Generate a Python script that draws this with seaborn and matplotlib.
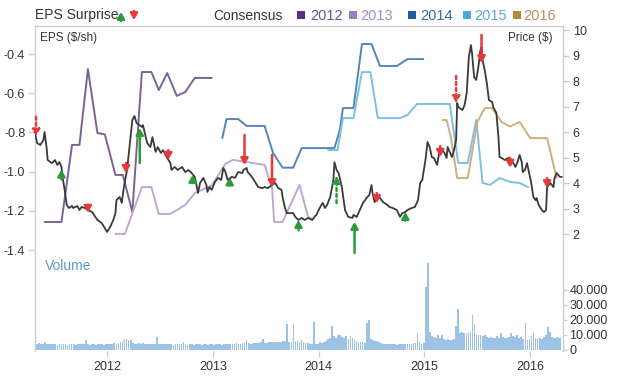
import numpy as np
import pandas as pd
import matplotlib
matplotlib.use("Agg")
import matplotlib.pyplot as plt
from matplotlib.patches import Rectangle, FancyArrowPatch
import seaborn as sns

sns.set_theme(style="white")
plt.rcParams["font.family"] = ["Liberation Sans", "DejaVu Sans"]
plt.rcParams["axes.unicode_minus"] = False

# share price ($), time as decimal year
price_t = [2011.32, 2011.34, 2011.37, 2011.40, 2011.41, 2011.43, 2011.44, 2011.48, 2011.51, 2011.53,
           2011.55, 2011.57, 2011.58, 2011.60, 2011.62, 2011.64, 2011.67, 2011.68, 2011.72, 2011.74,
           2011.76, 2011.79, 2011.82, 2011.86, 2011.89, 2011.91, 2011.95, 2011.98, 2012.00, 2012.03,
           2012.06, 2012.08, 2012.09, 2012.12, 2012.14, 2012.16, 2012.19, 2012.21, 2012.24, 2012.26,
           2012.28, 2012.33, 2012.34, 2012.38, 2012.41, 2012.43, 2012.46, 2012.48, 2012.51, 2012.53,
           2012.57, 2012.60, 2012.61, 2012.64, 2012.67, 2012.71, 2012.74, 2012.77, 2012.80, 2012.83,
           2012.85, 2012.86, 2012.88, 2012.91, 2012.94, 2012.95, 2012.97, 2012.99, 2013.02, 2013.05,
           2013.08, 2013.10, 2013.12, 2013.14, 2013.18, 2013.21, 2013.24, 2013.28, 2013.29, 2013.32,
           2013.33, 2013.37, 2013.40, 2013.43, 2013.47, 2013.49, 2013.52, 2013.56, 2013.59, 2013.62,
           2013.65, 2013.66, 2013.68, 2013.70, 2013.76, 2013.78, 2013.81, 2013.84, 2013.87, 2013.90,
           2013.94, 2013.96, 2013.98, 2014.01, 2014.04, 2014.06, 2014.08, 2014.11, 2014.14, 2014.15,
           2014.17, 2014.19, 2014.22, 2014.25, 2014.28, 2014.32, 2014.33, 2014.36, 2014.39, 2014.42,
           2014.46, 2014.48, 2014.50, 2014.51, 2014.53, 2014.55, 2014.58, 2014.61, 2014.65, 2014.67,
           2014.70, 2014.74, 2014.77, 2014.79, 2014.82, 2014.84, 2014.88, 2014.91, 2014.94, 2014.96,
           2014.98, 2015.01, 2015.03, 2015.05, 2015.07, 2015.09, 2015.12, 2015.14, 2015.17, 2015.19,
           2015.21, 2015.22, 2015.26, 2015.28, 2015.30, 2015.31, 2015.32, 2015.36, 2015.38, 2015.40,
           2015.42, 2015.44, 2015.45, 2015.47, 2015.49, 2015.51, 2015.53, 2015.54, 2015.55, 2015.57,
           2015.59, 2015.61, 2015.64, 2015.65, 2015.68, 2015.70, 2015.71, 2015.73, 2015.76, 2015.79,
           2015.82, 2015.84, 2015.86, 2015.88, 2015.90, 2015.92, 2015.93, 2015.95, 2015.97, 2015.99,
           2016.01, 2016.03, 2016.05, 2016.06, 2016.08, 2016.11, 2016.13, 2016.15, 2016.16, 2016.19,
           2016.22, 2016.23, 2016.25, 2016.28, 2016.30]
price_v = [5.96, 5.57, 5.49, 5.69, 6.00, 5.37, 4.90, 4.78, 4.90, 4.71,
           4.82, 4.63, 4.24, 3.73, 3.14, 3.02, 3.10, 3.02, 3.10, 2.94,
           3.06, 3.02, 2.94, 2.86, 2.67, 2.55, 2.43, 2.23, 2.08, 2.27,
           2.55, 2.82, 3.33, 3.45, 3.22, 3.84, 4.51, 5.29, 6.47, 6.63,
           6.35, 6.20, 6.27, 5.57, 5.41, 5.80, 5.22, 5.41, 5.18, 5.29,
           4.98, 4.78, 4.51, 4.63, 4.51, 4.63, 4.43, 4.51, 4.39, 4.24,
           3.84, 3.61, 4.00, 4.20, 3.92, 3.65, 3.84, 3.73, 4.04, 4.20,
           4.12, 4.59, 4.43, 4.12, 4.24, 4.20, 4.43, 4.39, 4.51, 4.59,
           4.43, 4.24, 4.04, 3.84, 3.80, 3.84, 3.80, 3.92, 4.00, 3.80,
           3.73, 3.45, 3.06, 2.82, 2.82, 2.67, 2.55, 2.63, 2.55, 2.63,
           2.55, 2.67, 2.75, 3.02, 3.22, 3.02, 3.14, 3.45, 4.12, 4.82,
           4.51, 4.39, 3.84, 2.94, 2.67, 2.63, 2.75, 2.67, 2.94, 3.22,
           3.45, 3.53, 3.92, 3.61, 3.25, 3.45, 3.41, 3.25, 3.14, 3.06,
           3.02, 2.94, 2.67, 2.82, 2.86, 2.94, 3.02, 3.06, 3.33, 4.00,
           4.12, 4.90, 5.61, 5.41, 5.02, 4.98, 4.71, 5.18, 5.29, 5.18,
           4.98, 5.41, 5.02, 5.29, 5.69, 7.14, 6.98, 6.86, 7.06, 7.53,
           8.94, 9.41, 9.10, 8.16, 8.04, 8.55, 9.22, 9.33, 8.82, 8.43,
           7.92, 7.25, 7.18, 6.98, 6.75, 5.80, 5.02, 4.98, 4.90, 4.98,
           4.90, 4.78, 4.63, 4.82, 5.10, 4.82, 4.43, 4.51, 4.78, 4.39,
           4.00, 3.45, 3.33, 3.41, 3.14, 2.94, 2.86, 2.94, 3.84, 4.00,
           3.84, 4.20, 4.39, 4.24, 4.24]

# consensus EPS ($/sh) per fiscal year
cons_2012_t = [2011.41, 2011.57, 2011.67, 2011.74, 2011.82, 2011.91, 2011.98, 2012.08, 2012.15,
               2012.24, 2012.33, 2012.42, 2012.49, 2012.57, 2012.66, 2012.74, 2012.83, 2012.99]
cons_2012_v = [-1.257, -1.257, -0.864, -0.864, -0.477, -0.803, -0.81, -1.017, -1.017,
               -1.206, -0.492, -0.492, -0.584, -0.497, -0.614, -0.594, -0.522, -0.522]
cons_2013_t = [2012.08, 2012.17, 2012.33, 2012.42, 2012.49, 2012.60, 2012.74, 2012.83, 2012.99,
               2013.12, 2013.19, 2013.49, 2013.56, 2013.58, 2013.66, 2013.82, 2013.90, 2013.93]
cons_2013_v = [-1.318, -1.318, -1.079, -1.079, -1.216, -1.216, -1.17, -1.11, -1.07,
               -0.96, -0.94, -0.966, -1.08, -1.257, -1.257, -1.068, -1.23, -1.24]
cons_2014_t = [2013.09, 2013.13, 2013.24, 2013.32, 2013.49, 2013.57, 2013.66, 2013.76, 2013.84,
               2014.15, 2014.20, 2014.23, 2014.33, 2014.41, 2014.50, 2014.58, 2014.74, 2014.84, 2014.99]
cons_2014_v = [-0.829, -0.732, -0.732, -0.767, -0.767, -0.905, -0.98, -0.98, -0.88,
               -0.88, -0.79, -0.676, -0.676, -0.349, -0.349, -0.461, -0.461, -0.426, -0.426]
cons_2015_t = [2014.09, 2014.18, 2014.23, 2014.33, 2014.41, 2014.49, 2014.56, 2014.77, 2014.84,
               2014.93, 2015.24, 2015.32, 2015.41, 2015.49, 2015.55, 2015.62, 2015.71, 2015.81,
               2015.90, 2015.98]
cons_2015_v = [-0.89, -0.89, -0.727, -0.727, -0.492, -0.492, -0.727, -0.727, -0.711,
               -0.655, -0.655, -0.956, -0.956, -0.737, -1.058, -1.068, -1.033, -1.053,
               -1.058, -1.079]
cons_2016_t = [2015.17, 2015.21, 2015.25, 2015.31, 2015.41, 2015.50, 2015.57, 2015.64, 2015.73,
               2015.81, 2015.90, 2016.00, 2016.16, 2016.25]
cons_2016_v = [-0.737, -0.737, -0.823, -1.033, -1.033, -0.747, -0.676, -0.676, -0.747,
               -0.77, -0.747, -0.829, -0.829, -1.033]

# EPS surprise arrows: consensus -> reported
surprise_t = [2011.33, 2011.57, 2011.82, 2012.18, 2012.31, 2012.58, 2012.81, 2013.16, 2013.30, 2013.56,
              2013.81, 2014.17, 2014.34, 2014.55, 2014.82, 2015.15, 2015.30, 2015.54, 2015.81, 2016.16]
surprise_from = [-0.72, -1.04, -1.17, -0.956, -0.956, -0.89, -1.058, -1.07, -0.813, -0.915,
                 -1.30, -1.16, -1.415, -1.11, -1.25, -0.87, -0.512, -0.303, -0.93, -1.033]
surprise_to = [-0.82, -0.99, -1.21, -1.007, -0.778, -0.94, -1.017, -1.03, -0.966, -1.079,
               -1.247, -1.022, -1.257, -1.16, -1.206, -0.925, -0.65, -0.446, -0.98, -1.084]
surprise_dashed = [True, False, False, False, False, False, False, False, False, False,
                   False, True, False, False, False, False, True, False, False, False]

# weekly volume (thousands of shares), first week 2011.32
vol_start = 2011.32
vol_k = [3.5, 3.8, 4.2, 3.6, 3.9, 5.0, 4.0, 3.6, 3.4, 3.8, 3.5, 3.3, 3.6,
         3.4, 3.7, 3.5, 3.2, 3.6, 3.8, 3.4, 3.3, 3.5, 3.7, 3.4, 3.6, 6.5,
         3.5, 3.3, 3.4, 3.6, 3.2, 3.5, 3.8, 3.4, 3.3, 3.6, 3.7, 3.5, 3.9,
         4.2, 3.8, 4.5, 5.0, 6.0, 6.8, 7.0, 6.5, 6.2, 4.5, 4.0, 3.8, 4.2,
         3.9, 4.1, 3.7, 4.0, 3.8, 3.6, 4.0, 3.9, 8.5, 3.8, 3.6, 3.9, 3.5,
         3.4, 3.7, 3.5, 3.3, 3.6, 3.4, 3.5, 3.8, 5.0, 3.6, 3.3, 3.5, 3.4,
         3.2, 3.5, 3.7, 3.4, 3.3, 3.6, 3.5, 3.2, 3.4, 3.6, 3.3, 3.5, 3.4,
         3.6, 3.3, 3.5, 3.8, 3.6, 3.4, 3.7, 3.9, 4.2, 3.8, 4.0, 4.3, 4.1,
         6.5, 4.2, 4.0, 4.4, 4.6, 4.3, 4.5, 4.8, 6.8, 4.6, 4.4, 4.9, 5.2,
         4.7, 5.0, 4.8, 5.3, 5.0, 5.5, 6.0, 17.0, 5.2, 5.0, 17.0, 5.8, 5.5,
         5.0, 6.2, 4.8, 4.5, 4.2, 4.0, 3.8, 18.5, 3.5, 4.0, 4.8, 4.5, 5.0,
         5.5, 6.8, 7.5, 16.0, 9.0, 8.0, 10.0, 9.5, 8.5, 7.5, 9.0, 7.0, 9.0,
         8.0, 6.5, 5.5, 5.0, 4.8, 5.2, 4.5, 18.0, 20.0, 7.0, 6.5, 6.0, 5.5,
         5.0, 4.5, 4.0, 3.8, 3.5, 3.6, 3.4, 3.8, 3.5, 3.3, 3.6, 4.0, 3.5,
         3.4, 3.8, 3.6, 3.9, 4.2, 4.5, 10.5, 5.0, 4.0, 4.5, 42.0, 58.0, 12.0,
         9.0, 8.5, 8.0, 9.5, 8.0, 10.0, 7.0, 6.5, 6.8, 6.2, 6.5, 7.0, 16.0,
         27.0, 11.0, 12.0, 11.0, 10.5, 11.5, 12.0, 23.0, 17.0, 10.0, 9.5, 10.0, 9.0,
         9.5, 8.5, 8.0, 8.5, 7.5, 8.0, 9.0, 8.0, 11.0, 8.5, 7.5, 8.0, 8.5,
         11.0, 9.0, 8.5, 9.5, 8.0, 8.5, 7.0, 18.0, 6.5, 7.0, 9.0, 11.0, 8.0,
         7.5, 8.0, 7.0, 8.5, 10.0, 15.0, 12.0, 8.5, 7.5, 8.0, 8.5, 7.5]

years = [2012, 2013, 2014, 2015, 2016]
eps_ticks = [-1.4, -1.2, -1.0, -0.8, -0.6, -0.4]
price_ticks = [2, 3, 4, 5, 6, 7, 8, 9, 10]
vol_ticks = [0, 10, 20, 30, 40]

cons_series = [(cons_2012_t, cons_2012_v), (cons_2013_t, cons_2013_v), (cons_2014_t, cons_2014_v),
               (cons_2015_t, cons_2015_v), (cons_2016_t, cons_2016_v)]
line_colors = ["#7b6296", "#c0a8d4", "#5585b8", "#7cc0e2", "#cfae80"]
box_colors = ["#5b2f7d", "#a37bc0", "#1f5b9e", "#4aaad8", "#b8873a"]
label_colors = ["#6a5a85", "#a58dbf", "#3a6aa0", "#5aaad5", "#b89060"]
green, red = "#2e9a3a", "#e5393b"
grey = "#cccccc"
txt = "#333333"
arrow_style = "-|>,head_length=0.38,head_width=0.22"

fig = plt.figure(figsize=(6.2, 3.83), dpi=100)
ax = fig.add_axes([35 / 620, 1 - 351 / 383, 528 / 620, 325 / 383])
axp = ax.twinx()
axv = ax.twinx()
axv.set_zorder(0)
ax.set_zorder(1)
axp.set_zorder(2)
ax.patch.set_visible(False)

# volume bars
vol = pd.DataFrame({"t": vol_start + np.arange(len(vol_k)) / 52, "vol": vol_k})
edges = list(vol_start - 0.5 / 52 + np.arange(len(vol_k) + 1) / 52)
sns.histplot(data=vol, x="t", weights="vol", bins=edges, shrink=0.85, color="#9cc3e6",
             linewidth=0, alpha=1, ax=axv)

# consensus lines
for (t, v), c in zip(cons_series, line_colors):
    sns.lineplot(x=t, y=v, ax=ax, color=c, lw=1.4, estimator=None, sort=False)

# price
sns.lineplot(x=price_t, y=price_v, ax=axp, color="#3a3a3a", lw=1.3, estimator=None, sort=False)

# surprise arrows, on top
for t, a, b, d in zip(surprise_t, surprise_from, surprise_to, surprise_dashed):
    c = green if b > a else red
    axp.annotate("", xy=(t, b), xytext=(t, a), xycoords=ax.transData, textcoords=ax.transData,
                 arrowprops=dict(arrowstyle=arrow_style, color=c, lw=1.8,
                                 linestyle=(0, (1.2, 1.2)) if d else "-",
                                 shrinkA=0, shrinkB=0, mutation_scale=10))

ax.set_xlim(2011.32, 2016.31)
ax.set_ylim(-1.9153, -0.2571)
axp.set_ylim(-2.588, 10.157)
axv.set_ylim(-1.0, 215.7)

for a in (ax, axp, axv):
    a.set_xlabel("")
    a.set_ylabel("")
    for s in a.spines.values():
        s.set_visible(False)
ax.spines["left"].set_visible(True)
ax.spines["top"].set_visible(True)
axp.spines["right"].set_visible(True)
for s in (ax.spines["left"], ax.spines["top"], axp.spines["right"]):
    s.set_color(grey)
    s.set_linewidth(1)

ax.set_xticks(years)
ax.set_xticklabels([str(y) for y in years])
ax.set_yticks(eps_ticks)
ax.set_yticklabels([f"{v:.1f}" for v in eps_ticks])
axp.set_yticks(price_ticks)
axp.set_yticklabels([str(p) for p in price_ticks])
axv.set_yticks(vol_ticks)
axv.set_yticklabels(["0" if v == 0 else f"{v * 1000:,.0f}".replace(",", ".") for v in vol_ticks])

ax.tick_params(axis="x", bottom=True, length=4, width=1, color=grey, labelsize=9, labelcolor=txt, pad=3)
ax.tick_params(axis="y", left=True, length=5, width=1, color=grey, labelsize=9, labelcolor=txt, pad=2)
axp.tick_params(axis="y", right=True, length=4, width=1, color=grey, labelsize=9, labelcolor=txt, pad=3)
axv.tick_params(axis="y", right=True, length=3, width=1, color=grey, labelsize=9, labelcolor=txt, pad=1.5)

# inner axis captions
ax.text(0.0095, 0.963, "EPS ($/sh)", transform=ax.transAxes, fontsize=8.5, color=txt, va="center")
ax.text(0.981, 0.963, "Price ($)", transform=ax.transAxes, fontsize=8.5, color=txt, va="center", ha="right")
ax.text(0.019, 0.2615, "Volume", transform=ax.transAxes, fontsize=10, color="#5c9ac6", va="center")

# header legend
hy = 1 - 15.5 / 383
fig.text(35 / 620, hy, "EPS Surprise", fontsize=10, color=txt, va="center")
for xp, y0, y1, c in [(121, 21, 12, green), (134, 11, 20, red)]:
    fig.add_artist(FancyArrowPatch(
        (xp / 620, 1 - y0 / 383), (xp / 620, 1 - y1 / 383), transform=fig.transFigure,
        arrowstyle=arrow_style, mutation_scale=10, color=c, lw=1.8, shrinkA=0, shrinkB=0))
fig.text(213 / 620, hy, "Consensus", fontsize=10, color=txt, va="center")
box_x = [297, 349, 408, 463, 513]
lab_x = [310, 360, 420, 474, 523]
for y, bx, lx, bc, lc in zip(years, box_x, lab_x, box_colors, label_colors):
    fig.add_artist(Rectangle((bx / 620, 1 - 19 / 383), 8 / 620, 8 / 383,
                             transform=fig.transFigure, color=bc, lw=0))
    fig.text(lx / 620, hy, str(y), fontsize=10.5, color=lc, va="center")

fig.savefig("out.png", dpi=100, facecolor="white")
